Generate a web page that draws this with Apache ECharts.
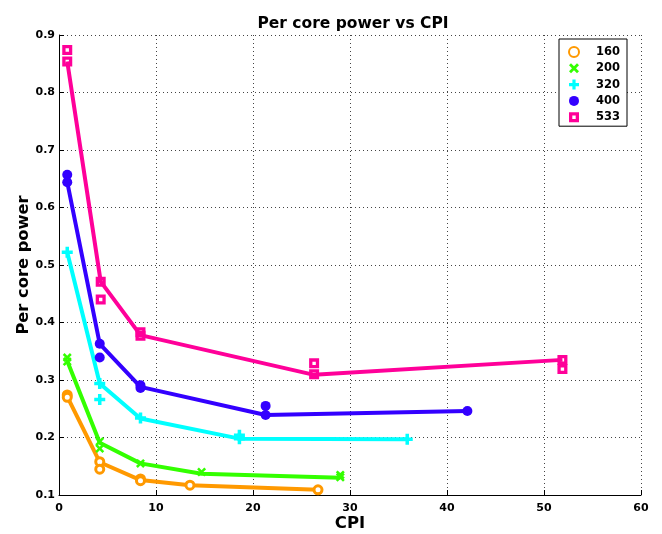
<!DOCTYPE html>
<html><head><meta charset="utf-8">
<script src="https://cdn.jsdelivr.net/npm/echarts@6/dist/echarts.min.js"></script>
<style>html,body{margin:0;padding:0;background:#fff}#c{width:662px;height:534px}</style>
</head><body><div id="c"></div>
<script>
const seriesNames = ['160', '200', '320', '400', '533'];
const colors = ['#FF9900', '#33FF00', '#00FFFF', '#3300FF', '#FF0099'];
const xTicks = [0, 10, 20, 30, 40, 50, 60];
const yTicks = [0.1, 0.2, 0.3, 0.4, 0.5, 0.6, 0.7, 0.8, 0.9];

// line data (x = CPI, y = per core power)
const cpi160 = [0.85, 4.2, 8.4, 13.5, 26.7];
const pow160 = [0.271, 0.157, 0.126, 0.117, 0.109];
const cpi200 = [0.85, 4.2, 8.4, 14.7, 29.0];
const pow200 = [0.333, 0.191, 0.155, 0.137, 0.130];
const cpi320 = [0.85, 4.2, 8.4, 18.6, 35.9];
const pow320 = [0.522, 0.294, 0.233, 0.198, 0.197];
const cpi400 = [0.85, 4.2, 8.4, 21.3, 42.1];
const pow400 = [0.644, 0.363, 0.288, 0.239, 0.246];
const cpi533 = [0.85, 4.3, 8.4, 26.3, 51.9];
const pow533 = [0.854, 0.471, 0.378, 0.309, 0.335];

// measured points
const pts160 = [[0.85,0.274],[0.85,0.270],[4.2,0.158],[4.2,0.145],[8.4,0.128],[8.4,0.125],[13.5,0.117],[26.7,0.109]];
const pts200 = [[0.85,0.339],[0.85,0.332],[4.2,0.193],[4.2,0.181],[8.4,0.155],[14.7,0.140],[29.0,0.135],[29.0,0.131]];
const pts320 = [[0.85,0.522],[4.2,0.294],[4.2,0.266],[8.4,0.234],[18.6,0.204],[18.6,0.198],[35.9,0.197]];
const pts400 = [[0.85,0.657],[0.85,0.644],[4.2,0.363],[4.2,0.339],[8.4,0.291],[8.4,0.286],[21.3,0.255],[21.3,0.239],[42.1,0.246]];
const pts533 = [[0.85,0.874],[0.85,0.854],[4.3,0.471],[4.3,0.440],[8.4,0.383],[8.4,0.377],[26.3,0.329],[26.3,0.310],[51.9,0.335],[51.9,0.319]];

const lineX = [cpi160, cpi200, cpi320, cpi400, cpi533];
const lineY = [pow160, pow200, pow320, pow400, pow533];
const pts = [pts160, pts200, pts320, pts400, pts533];

const symX = 'path://M2,0 L5,3 L8,0 L10,2 L7,5 L10,8 L8,10 L5,7 L2,10 L0,8 L3,5 L0,2 Z';
const symPlus = 'path://M3.4,0 H6.6 V3.4 H10 V6.6 H6.6 V10 H3.4 V6.6 H0 V3.4 H3.4 Z';
const symSq = 'path://M0,0 H10 V10 H0 Z M3.3,3.3 V6.7 H6.7 V3.3 Z';
const symStyles = [
  {symbol: 'circle', size: 8, itemStyle: {color: '#fff', borderColor: colors[0], borderWidth: 3, opacity: 1}},
  {symbol: symX, size: 9, itemStyle: {color: colors[1], opacity: 1}},
  {symbol: symPlus, size: 11, itemStyle: {color: colors[2], opacity: 1}},
  {symbol: 'circle', size: 10, itemStyle: {color: colors[3], opacity: 1}},
  {symbol: symSq, size: 10, itemStyle: {color: colors[4], opacity: 1}}
];

const series = [];
seriesNames.forEach((n, i) => {
  series.push({
    name: 'line' + n, type: 'line', data: lineX[i].map((x, k) => [x, lineY[i][k]]),
    showSymbol: false, lineStyle: {color: colors[i], width: 4}, z: 2, silent: true
  });
});
seriesNames.forEach((n, i) => {
  series.push({
    name: n, type: 'scatter', data: pts[i], symbol: symStyles[i].symbol, symbolKeepAspect: true,
    symbolSize: symStyles[i].size, itemStyle: symStyles[i].itemStyle, z: 3
  });
});

const FONT = '"DejaVu Sans", Verdana, sans-serif';
const bold = {fontFamily: FONT, fontWeight: 'bold', color: '#000'};
const chart = echarts.init(document.getElementById('c'), null, {renderer: 'canvas'});
chart.setOption({
  animation: false,
  backgroundColor: '#fff',
  title: {text: 'Per core power vs CPI', left: 348, top: 11, textAlign: 'center',
    textStyle: Object.assign({fontSize: 15.5}, bold)},
  grid: {left: 59, right: 21, top: 35, bottom: 39, containLabel: false, outerBoundsMode: 'none'},
  legend: {
    data: seriesNames.map((n, i) => ({name: n, icon: symStyles[i].symbol})),
    orient: 'vertical', left: 559, top: 39, symbolKeepAspect: true,
    padding: [7, 7, 3, 9], itemWidth: 34, itemHeight: 10, itemGap: 4.3,
    borderColor: '#000', borderWidth: 1, backgroundColor: '#fff',
    textStyle: Object.assign({fontSize: 11.5, lineHeight: 12}, bold)
  },
  xAxis: {
    type: 'value', min: 0, max: 60, interval: 10,
    name: 'CPI', nameLocation: 'middle', nameGap: 20, nameMoveOverlap: false,
    nameTextStyle: Object.assign({fontSize: 16.5}, bold),
    axisLine: {onZero: false, lineStyle: {color: '#000', width: 1}},
    axisTick: {inside: true, length: 5, lineStyle: {color: '#000'}},
    axisLabel: Object.assign({fontSize: 11, margin: 8, formatter: v => xTicks.includes(v) ? String(v) : ''}, bold),
    splitLine: {show: true, lineStyle: {color: '#444', type: [1, 3], width: 1}}
  },
  yAxis: {
    type: 'value', min: 0.1, max: 0.9, interval: 0.1,
    name: 'Per core power', nameLocation: 'middle', nameGap: 27, nameMoveOverlap: false,
    nameTextStyle: Object.assign({fontSize: 16.3}, bold),
    axisLine: {show: true, onZero: false, lineStyle: {color: '#000', width: 1}},
    axisTick: {show: true, inside: true, length: 5, lineStyle: {color: '#000'}},
    axisLabel: Object.assign({fontSize: 11, margin: 4, formatter: v => v.toFixed(1)}, bold),
    splitLine: {show: true, lineStyle: {color: '#444', type: [1, 3], width: 1}}
  },
  series: series
});
</script></body></html>
